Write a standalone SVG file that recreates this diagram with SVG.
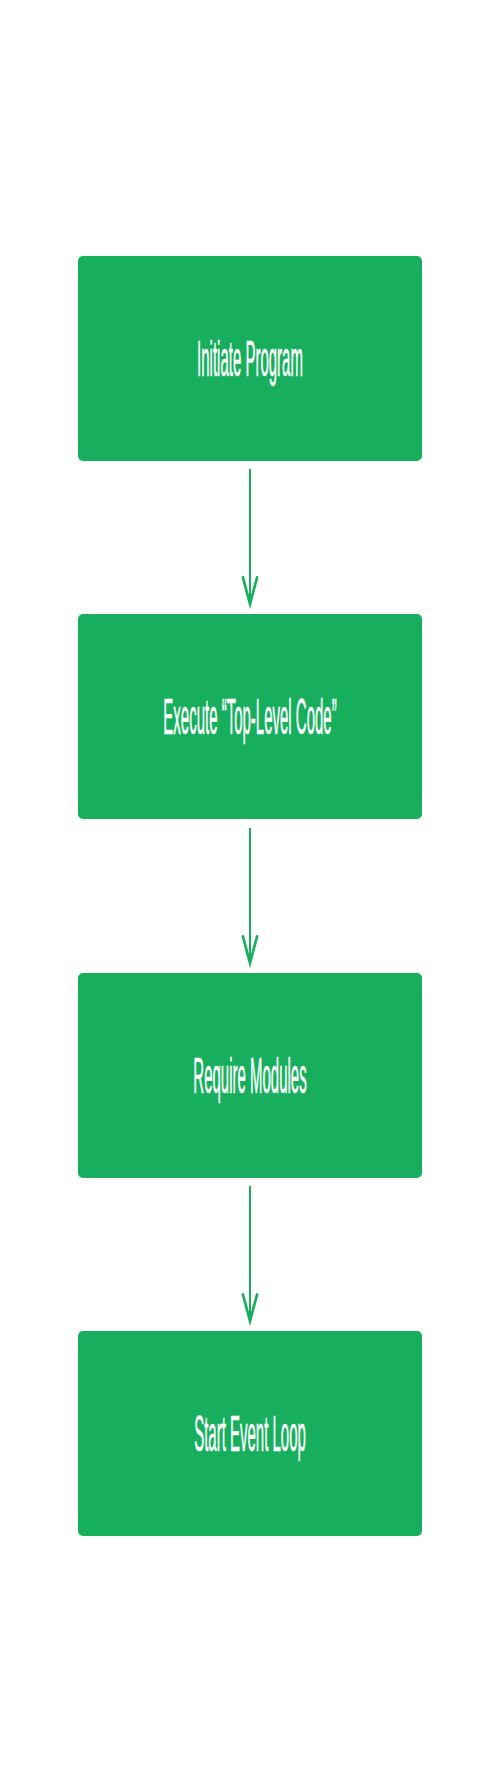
<svg xmlns="http://www.w3.org/2000/svg" width="500" height="1792" viewBox="0 0 500 1792">
<style>
.box{fill:#17af5e;}
.lbl{fill:#ffffff;stroke:#ffffff;stroke-width:0.6;font-family:"Liberation Sans",Arial,sans-serif;font-size:50px;text-anchor:middle;}
.edge{stroke:#17af5e;stroke-width:2;fill:none;}
</style>
<defs>
<marker id="arr" markerUnits="userSpaceOnUse" markerWidth="40" markerHeight="20" viewBox="-36 -12 40 24" refX="0" refY="0" orient="auto" overflow="visible">
<path d="M-32,-8.5 L0,0 L-32,8.5" fill="none" stroke="#17af5e" stroke-width="3.2" stroke-linecap="round" stroke-linejoin="miter"/>
</marker>
</defs>
<rect width="500" height="1792" fill="#ffffff"/>
<g id="connectors">
<line class="edge" x1="250" y1="469" x2="250" y2="604" marker-end="url(#arr)"/>
<line class="edge" x1="250" y1="828" x2="250" y2="963" marker-end="url(#arr)"/>
<line class="edge" x1="250" y1="1186" x2="250" y2="1321" marker-end="url(#arr)"/>
</g>
<g id="node1">
<rect class="box" x="78" y="256" width="344" height="205" rx="5"/>
<text class="lbl" transform="translate(250,376) scale(0.3,1)">Initiate Program</text>
</g>
<g id="node2">
<rect class="box" x="78" y="614" width="344" height="205" rx="5"/>
<text class="lbl" transform="translate(250,734) scale(0.3,1)">Execute “Top-Level Code”</text>
</g>
<g id="node3">
<rect class="box" x="78" y="973" width="344" height="205" rx="5"/>
<text class="lbl" transform="translate(250,1093) scale(0.3,1)">Require Modules</text>
</g>
<g id="node4">
<rect class="box" x="78" y="1331" width="344" height="205" rx="5"/>
<text class="lbl" transform="translate(250,1451) scale(0.3,1)">Start Event Loop</text>
</g>
</svg>
